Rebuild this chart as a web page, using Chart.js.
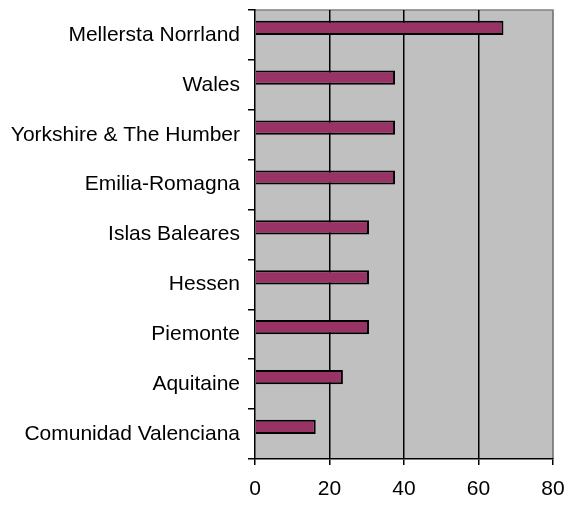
<!DOCTYPE html>
<html>
<head>
<meta charset="utf-8">
<script src="https://cdn.jsdelivr.net/npm/chart.js@4/dist/chart.umd.min.js"></script>
<style>
  html, body { margin: 0; padding: 0; background: #fff; }
  #wrap { width: 569px; height: 509px; }
</style>
</head>
<body>
<div id="wrap"><canvas id="chart"></canvas></div>
<script>
// regions, top to bottom
const regions = [
    "Mellersta Norrland",
    "Wales",
    "Yorkshire & The Humber",
    "Emilia-Romagna",
    "Islas Baleares",
    "Hessen",
    "Piemonte",
    "Aquitaine",
    "Comunidad Valenciana"
];
const values = [66.7, 37.6, 37.6, 37.6, 30.6, 30.6, 30.6, 23.6, 16.3];
const emptySeries = [null, null, null, null, null, null, null, null, null];//excel had a second, empty series
const xTicks = [0, 20, 40, 60, 80];

const fontFamily = "'Liberation Sans', Arial, sans-serif";

// grey plot area with grey top/right border
const plotBackground = {
    id: "plotBackground",
    beforeDraw: function (chart) {
        let a = chart.chartArea;
        let ctx = chart.ctx;
        ctx.save();
        ctx.fillStyle = "#C0C0C0";
        ctx.fillRect(a.left, a.top, a.right - a.left, a.bottom - a.top);
        ctx.strokeStyle = "#808080";
        ctx.lineWidth = 1.5;
        ctx.beginPath();
        ctx.moveTo(a.left, a.top);
        ctx.lineTo(a.right, a.top);
        ctx.lineTo(a.right, a.bottom);
        ctx.stroke();
        ctx.restore();
    }
};

// let layout.padding alone decide the outer margins
function noLabelPadding(scale) {
    scale.paddingTop = 0;
    scale.paddingBottom = 0;
    scale.paddingLeft = 0;
    scale.paddingRight = 0;
}

new Chart(document.getElementById("chart"), {
    type: "bar",
    data: {
        labels: regions,
        datasets: [
            {
                data: values,
                backgroundColor: "#993366",
                borderColor: "#000000",
                borderWidth: 2,
                categoryPercentage: 0.57,
                barPercentage: 1
            },
            {
                data: emptySeries,
                backgroundColor: "transparent",
                categoryPercentage: 0.57,
                barPercentage: 1
            }
        ]
    },
    options: {
        indexAxis: "y",
        responsive: true,
        maintainAspectRatio: false,
        animation: false,
        layout: { padding: { top: 10, right: 16, left: 0, bottom: 0 } },
        plugins: {
            legend: { display: false },
            tooltip: { enabled: false }
        },
        scales: {
            x: {
                min: 0,
                max: 80,
                afterBuildTicks: function (scale) {
                    scale.ticks = xTicks.map(function (v) { return { value: v }; });
                },
                afterFit: function (scale) {
                    scale.height = 50;
                    noLabelPadding(scale);
                },
                grid: {
                    color: function (c) {
                        if (c.tick.value === 0) return "transparent";
                        if (c.tick.value === 80) return "#808080";
                        return "#000000";
                    },
                    tickColor: "#000000",
                    lineWidth: 1.5,
                    tickLength: 6
                },
                border: { color: "#000000", width: 1.5 },
                ticks: {
                    color: "#000000",
                    padding: 12,
                    font: { family: fontFamily, size: 21 }
                }
            },
            y: {
                afterFit: function (scale) {
                    scale.width = 255;
                    noLabelPadding(scale);
                },
                grid: {
                    drawOnChartArea: false,
                    color: "#000000",
                    lineWidth: 1.5,
                    tickLength: 7
                },
                border: { color: "#000000", width: 1.5 },
                ticks: {
                    color: "#000000",
                    padding: 8,
                    font: { family: fontFamily, size: 21 }
                }
            }
        }
    },
    plugins: [plotBackground]
});
</script>
</body>
</html>
